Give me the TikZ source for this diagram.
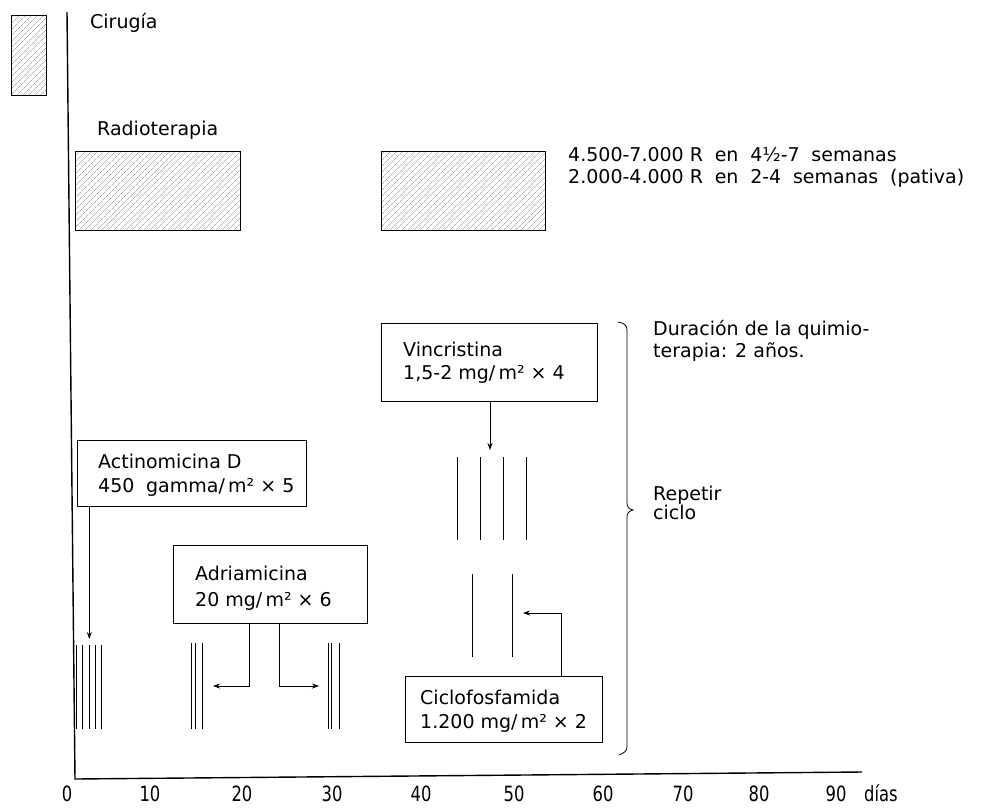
\documentclass[tikz,border=0pt]{standalone}
\usepackage{fontspec}
\setmainfont{DejaVu Sans}
\newfontfamily\axisfont[FakeStretch=0.78]{DejaVu Sans}
\usetikzlibrary{arrows.meta,patterns.meta}
\newcommand\wsp{\hspace{0.3em}}
\begin{document}
\begin{tikzpicture}[x=1pt,y=-1pt,
  every node/.style={font=\fontsize{19}{24}\selectfont, inner sep=0pt},
  txt/.style={anchor=base west},
  tick/.style={anchor=base, font=\axisfont\fontsize{21}{24}\selectfont},
  dbox/.style={draw, line width=0.8pt, anchor=north west},
  hatch/.style={draw, line width=0.8pt, pattern={Lines[angle=45,distance=4pt,line width=0.45pt]}, pattern color=black!50},
  dose/.style={line width=0.8pt},
  arr/.style={line width=0.8pt, -{Stealth[length=7pt,width=5pt]}},
  axisline/.style={line width=1.4pt}
]
\useasboundingbox (0,0) rectangle (987,809);

% axes
\coordinate (top) at (67,12);
\coordinate (org) at (75,779);
\coordinate (xend) at (862,772);
\draw[axisline] (top) -- (org) -- (xend);

% Cirugia
\node[hatch, anchor=north west, minimum width=35pt, minimum height=80pt] (cir) at (11,15) {};
\node[txt] (cirt) at (90,28) {Cirugía};

% Radioterapia
\node[txt] (radt) at (97,135) {Radioterapia};
\node[hatch, anchor=north west, minimum width=165pt, minimum height=79pt] (rad1) at (75,151) {};
\node[hatch, anchor=north west, minimum width=164pt, minimum height=79pt] (rad2) at (381,151) {};
\node[txt] (radl1) at (568,161) {4.500-7.000 R\wsp\ en\wsp\ 4½-7\wsp\ semanas};
\node[txt] (radl2) at (568,183) {2.000-4.000 R\wsp\ en\wsp\ 2-4\wsp\ semanas\wsp\ (pativa)};

% Actinomicina
\node[dbox, minimum width=229pt, minimum height=66pt] (actbox) at (77,440) {};
\node[txt] (act1) at (98,468) {Actinomicina D};
\node[txt] (act2) at (98,492) {450\wsp\ gamma/\,m² × 5};
\coordinate (acttip) at (89.3,639);
\draw[arr] (actbox.south -| acttip) -- (acttip);
\foreach \x in {76.7,82.7,89.3,95,101} \draw[dose] (\x,645) -- (\x,729);

% Adriamicina
\node[dbox, minimum width=194pt, minimum height=78pt] (adrbox) at (173,545) {};
\node[txt] (adr1) at (195,580) {Adriamicina};
\node[txt] (adr2) at (195,606) {20 mg/\,m² × 6};
\coordinate (adrL) at (213,686);
\coordinate (adrR) at (319,686);
\draw[arr] ([xshift=76pt]adrbox.south west) |- (adrL);
\draw[arr] ([xshift=106pt]adrbox.south west) |- (adrR);
\foreach \x in {191.7,195.7,202.7,328.3,331.7,339.3} \draw[dose] (\x,643) -- (\x,729);

% Vincristina
\node[dbox, minimum width=216pt, minimum height=78pt] (vinbox) at (381,323) {};
\node[txt] (vin1) at (403,356) {Vincristina};
\node[txt] (vin2) at (403,379) {1,5-2 mg/\,m² × 4};
\coordinate (vintip) at (490,450);
\draw[arr] (vinbox.south -| vintip) -- (vintip);
\foreach \x in {457.3,480.7,503.3,526.3} \draw[dose] (\x,457) -- (\x,540);

% Ciclofosfamida
\node[dbox, minimum width=197pt, minimum height=66pt] (cicbox) at (405,676) {};
\node[txt] (cic1) at (420,704) {Ciclofosfamida};
\node[txt] (cic2) at (420,728) {1.200 mg/\,m² × 2};
\coordinate (cictip) at (523,613);
\draw[arr] ([xshift=156pt]cicbox.north west) |- (cictip);
\foreach \x in {472.5,512.7} \draw[dose] (\x,574) -- (\x,657);

% brace
\draw[line width=0.8pt] (618,322) .. controls (624,323) and (627,325) .. (627,330)
  -- (627,503) .. controls (627,507) and (629,509) .. (633,510)
  .. controls (629,511) and (627,513) .. (627,517)
  -- (627,747) .. controls (627,751) and (624,753) .. (619,755);
\node[txt] (dur1) at (653,335) {Duración de la quimio-};
\node[txt] (dur2) at (653,357) {terapia: 2 años.};
\node[txt] (rep1) at (653,500) {Repetir};
\node[txt] (rep2) at (653,519) {ciclo};

% ticks
\node[tick] (t0) at (67,801) {0};
\node[tick] (t10) at (150,801) {10};
\node[tick] (t20) at (242,801) {20};
\node[tick] (t30) at (332,801) {30};
\node[tick] (t40) at (421,801) {40};
\node[tick] (t50) at (514,801) {50};
\node[tick] (t60) at (603,801) {60};
\node[tick] (t70) at (683,801) {70};
\node[tick] (t80) at (759,801) {80};
\node[tick] (t90) at (836,801) {90};
\node[tick, anchor=base west] (tdias) at (864,801) {días};
\end{tikzpicture}
\end{document}
